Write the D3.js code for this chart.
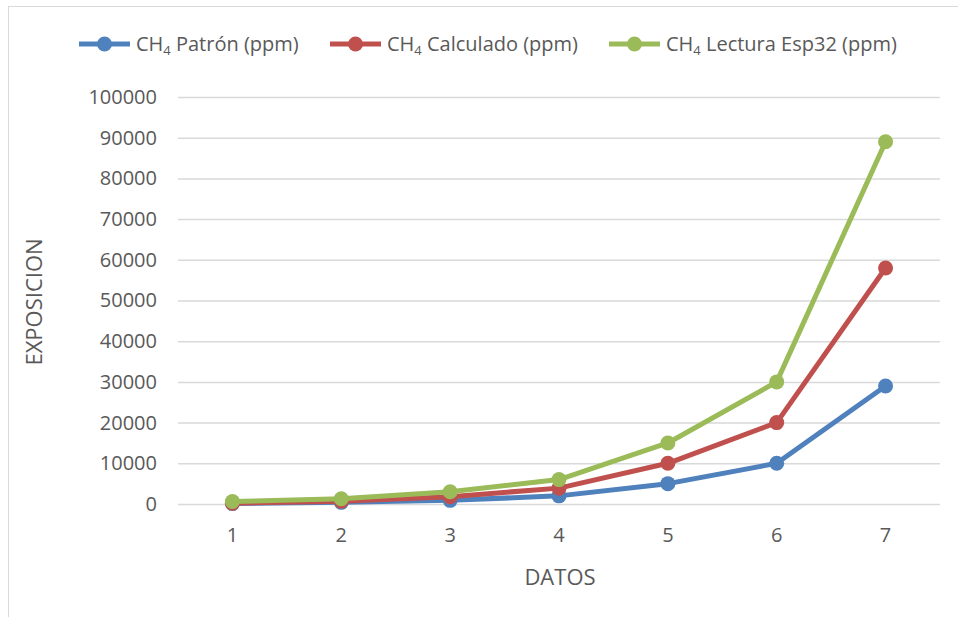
<!DOCTYPE html>
<html>
<head>
<meta charset="utf-8">
<script src="https://cdn.jsdelivr.net/npm/d3@7"></script>
<style>
  body { margin: 0; background: #fff; }
  text { font-family: "Open Sans", sans-serif; fill: #595959; }
</style>
</head>
<body>
<svg id="chart" width="958" height="617"></svg>
<script>
// chart data
const datos = [1, 2, 3, 4, 5, 6, 7];
const patron = [100, 400, 900, 2000, 5000, 10000, 29000];
const calculado = [200, 700, 1800, 3900, 10000, 20000, 58000];
const lectura = [600, 1300, 3000, 6000, 15000, 30000, 89000];
const yTicks = [0, 10000, 20000, 30000, 40000, 50000, 60000, 70000, 80000, 90000, 100000];
const seriesNames = ["Patrón (ppm)", "Calculado (ppm)", "Lectura Esp32 (ppm)"];
const colors = ["#4f81bd", "#c0504d", "#9bbb59"];

const svg = d3.select("#chart");
const margins = { top: 97, right: 18, bottom: 113, left: 178 };
const width = svg.attr("width") - margins.left - margins.right;
const height = svg.attr("height") - margins.top - margins.bottom;

// chart border
svg.append("rect")
    .attr("x", 8.5).attr("y", 6.5)
    .attr("width", 1000).attr("height", 1000)
    .attr("fill", "none")
    .attr("stroke", "#d9d9d9");

let chartArea = svg.append("g")
    .attr("transform", "translate(" + margins.left + ", " + margins.top + ")");

const xScale = d3.scaleBand().domain(datos).range([0, width]);
const yScale = d3.scaleLinear().domain([0, 100000]).range([height, 0]);

// gridlines
chartArea.selectAll(".grid")
    .data(yTicks)
    .join("line")
    .attr("x1", 0).attr("x2", width)
    .attr("y1", d => yScale(d) + 0.5).attr("y2", d => yScale(d) + 0.5)
    .attr("stroke", "#d9d9d9")
    .attr("stroke-width", 1.5);

// axes
const yAxis = d3.axisLeft(yScale).tickValues(yTicks).tickFormat(d3.format("d"))
    .tickSize(0).tickPadding(21);
const xAxis = d3.axisBottom(xScale).tickSize(0).tickPadding(24);

chartArea.append("g").call(yAxis)
    .call(g => g.select(".domain").remove())
    .selectAll("text")
    .attr("font-size", 20).attr("font-family", null).attr("fill", "#595959");

chartArea.append("g")
    .attr("transform", "translate(0, " + height + ")")
    .call(xAxis)
    .call(g => g.select(".domain").remove())
    .selectAll("text")
    .attr("font-size", 20).attr("font-family", null).attr("fill", "#595959");

// axis titles
svg.append("text")
    .attr("transform", "translate(42, 302) rotate(-90)")
    .attr("text-anchor", "middle")
    .attr("font-size", 22)
    .text("EXPOSICION");

svg.append("text")
    .attr("x", 560).attr("y", 585)
    .attr("text-anchor", "middle")
    .attr("font-size", 22)
    .text("DATOS");

// lines and markers
const allSeries = [patron, calculado, lectura];
const line = d3.line()
    .x((d, i) => xScale(datos[i]) + xScale.bandwidth() / 2)
    .y(d => yScale(d));

allSeries.forEach(function (values, s) {
    chartArea.append("path")
        .attr("d", line(values))
        .attr("fill", "none")
        .attr("stroke", colors[s])
        .attr("stroke-width", 5)
        .attr("stroke-linejoin", "round");

    values.forEach(function (v, i) {
        chartArea.append("circle")
            .attr("cx", xScale(datos[i]) + xScale.bandwidth() / 2)
            .attr("cy", yScale(v))
            .attr("r", 7.5)
            .attr("fill", colors[s]);
    });
});

// legend
const legendX = [79, 330, 609];
seriesNames.forEach(function (name, s) {
    const lg = svg.append("g").attr("transform", "translate(" + legendX[s] + ", 44)");
    lg.append("line")
        .attr("x1", 0).attr("x2", 51)
        .attr("stroke", colors[s]).attr("stroke-width", 5);
    lg.append("circle").attr("cx", 25.5).attr("r", 7.5).attr("fill", colors[s]);
    const t = lg.append("text").attr("x", 57).attr("y", 7).attr("font-size", 20);
    t.append("tspan").text("CH");
    t.append("tspan").attr("font-size", 13).attr("dy", 4).text("4");
    t.append("tspan").attr("dy", -4).text(" " + name);
});
</script>
</body>
</html>
